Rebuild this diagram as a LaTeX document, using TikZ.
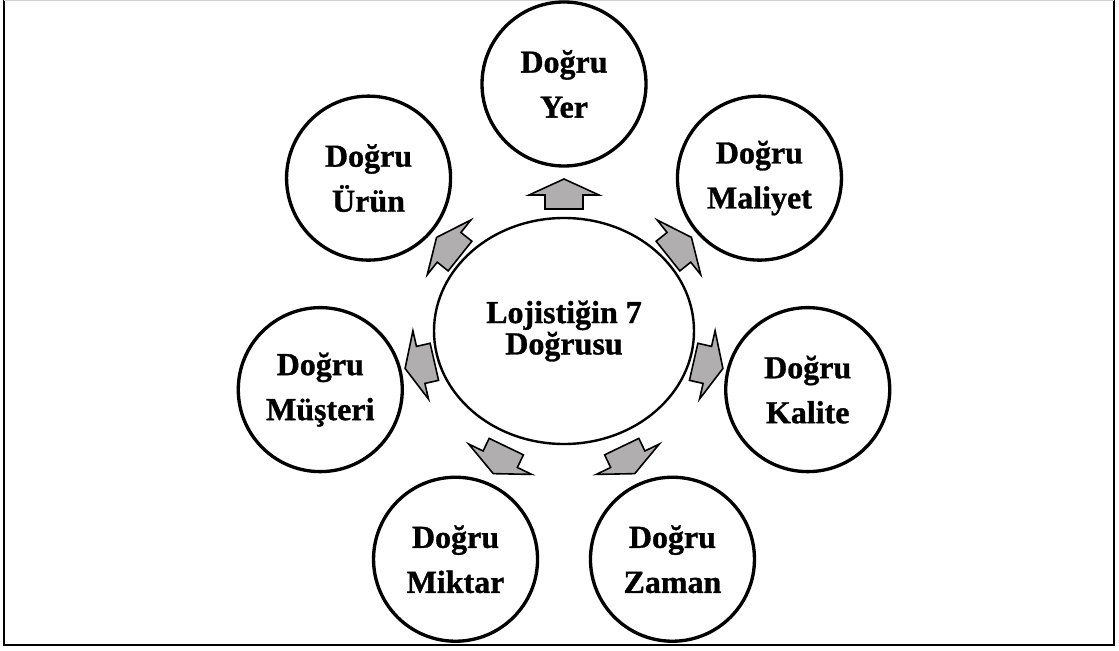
\documentclass[tikz,border=0pt]{standalone}
\usepackage{fontspec}
\setmainfont{Liberation Serif}[BoldFeatures={FakeBold=1}]
\usetikzlibrary{shapes.geometric}
\definecolor{arrowgray}{RGB}{176,174,174}
\begin{document}
\begin{tikzpicture}[x=0.75pt,y=0.75pt,
  spoke/.style={circle, draw, line width=2.5pt, minimum size=123pt, inner sep=0pt,
    align=center, font=\fontsize{24}{33.75}\selectfont\bfseries},
  hub/.style={ellipse, draw, line width=1.8pt, minimum width=195pt, minimum height=169.5pt,
    inner sep=0pt, align=center, font=\fontsize{24}{23.5}\selectfont\bfseries},
  flowarrow/.style={draw, line width=1.2pt, fill=arrowgray, line join=miter}]
\useasboundingbox (0,0) rectangle (1119,650);
% frame
\draw[line width=1.5pt] (4,649.5) -- (4,5) -- (1114,5) -- (1114,649.5);
\draw[gray!35, line width=1pt] (4,649.5) -- (1114,649.5);
\begin{scope}[shift={(564,316)}]
  \node[hub] (hub) at (0,3) {Lojistiğin 7\\Doğrusu};
  % seven satellites, evenly spaced
  \node[spoke] (yer)     at (90:250)      {Doğru\\Yer};
  \node[spoke] (maliyet) at (38.571:250)  {Doğru\\Maliyet};
  \node[spoke] (kalite)  at (-12.857:250) {Doğru\\Kalite};
  \node[spoke] (zaman)   at (-64.286:250) {Doğru\\Zaman};
  \node[spoke] (miktar)  at (-115.714:250){Doğru\\Miktar};
  \node[spoke] (musteri) at (-167.143:250){Doğru\\Müşteri};
  \node[spoke] (urun)    at (141.429:250) {Doğru\\Ürün};
  % block arrows pointing outward
  \foreach \ang in {90,38.571,-12.857,-64.286,-115.714,-167.143,141.429}
    \draw[flowarrow, shift={({147*cos(\ang)},{139*sin(\ang)})}, rotate=\ang-90]
      (0,16) -- (35,0) -- (19,0) -- (19,-14) -- (-19,-14) -- (-19,0) -- (-35,0) -- cycle;
\end{scope}
\end{tikzpicture}
\end{document}
